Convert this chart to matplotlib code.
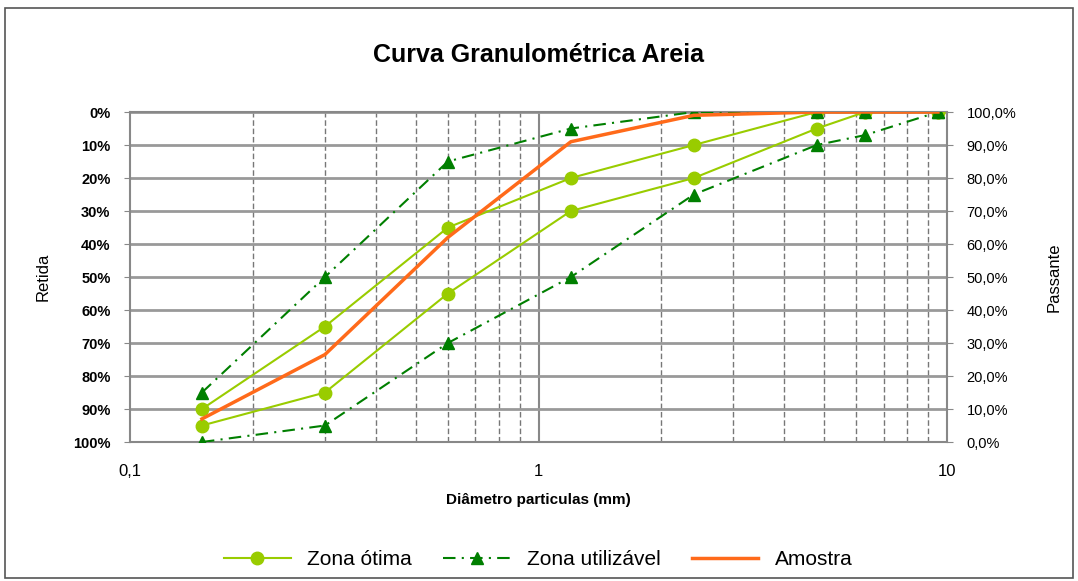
import numpy as np
import matplotlib.pyplot as plt
from matplotlib.patches import Rectangle

plt.rcParams['font.family'] = ['Liberation Sans', 'DejaVu Sans']

# sieve openings (mm)
peneiras = [0.15, 0.3, 0.6, 1.2, 2.4, 4.8, 6.3, 9.5]

# % retida acumulada
otima_inf = [90, 65, 35, 20, 10, 0, 0, 0]
otima_sup = [95, 85, 55, 30, 20, 5, 0, 0]
util_inf = [85, 50, 15, 5, 0, 0, 0, 0]
util_sup = [100, 95, 70, 50, 25, 10, 7, 0]
amostra = [93, 73.5, 38, 9, 1, 0, 0, 0]

verde_claro = "#99CC00"
verde_escuro = "#007F00"
laranja = "#FF6A1A"

fig = plt.figure(figsize=(10.78, 5.81), dpi=100)
fig.patches.append(Rectangle((0.005, 0.005), 0.99, 0.982, transform=fig.transFigure,
                             fill=False, edgecolor="#555555", linewidth=1.2))

ax = fig.add_axes([0.1206, 0.2392, 0.7579, 0.568])
ax.set_xscale("log")
ax.set_xlim(0.1, 10)
ax.set_ylim(100, 0)

# grid
for d in [0.2, 0.3, 0.4, 0.5, 0.6, 0.7, 0.8, 0.9, 2, 3, 4, 5, 6, 7, 8, 9]:
    ax.axvline(d, color="#777777", linestyle=(0, (4, 2)), linewidth=1.0, zorder=1)
ax.axvline(1, color="#888888", linewidth=1.5, zorder=1)
for h in range(0, 101, 10):
    ax.axhline(h, color="#999999", linewidth=2.0, zorder=1)

ax.plot(peneiras, otima_inf, color=verde_claro, marker="o", markersize=9, linewidth=1.5, zorder=3,
        label="Zona ótima")
ax.plot(peneiras, otima_sup, color=verde_claro, marker="o", markersize=9, linewidth=1.5, zorder=3)
ax.plot(peneiras, util_inf, color=verde_escuro, marker="^", markersize=9, linewidth=1.5,
        dashes=(6, 3, 1, 3), zorder=3, label="Zona utilizável")
ax.plot(peneiras, util_sup, color=verde_escuro, marker="^", markersize=9, linewidth=1.5,
        dashes=(6, 3, 1, 3), zorder=3)
ax.plot(peneiras, amostra, color=laranja, linewidth=2.5, zorder=4, label="Amostra")

ax.set_yticks(range(0, 101, 10))
ax.set_yticklabels([f"{v}%" for v in range(0, 101, 10)], fontsize=10.5, fontweight="bold")
ax.set_xticks([0.1, 1, 10])
ax.set_xticklabels(["0,1", "1", "10"], fontsize=12)
ax.xaxis.set_minor_locator(plt.NullLocator())
ax.tick_params(axis="x", length=0, pad=16)
ax.tick_params(axis="y", length=4, color="#888888", pad=10)
for s in ax.spines.values():
    s.set_color("#888888")
    s.set_linewidth(1.5)

ax2 = ax.twinx()
ax2.set_ylim(0, 100)
ax2.set_yticks(range(0, 101, 10))
ax2.set_yticklabels([f"{v},0%" for v in range(0, 101, 10)], fontsize=10.5)
ax2.tick_params(axis="y", length=4, color="#888888", pad=10)
for s in ax2.spines.values():
    s.set_visible(False)

ax.set_title("Curva Granulométrica Areia", fontsize=18, fontweight="bold", pad=36)
ax.set_xlabel("Diâmetro particulas (mm)", fontsize=11, fontweight="bold", labelpad=10)
ax.set_ylabel("Retida", fontsize=12, labelpad=16)
ax2.set_ylabel("Passante", fontsize=12, labelpad=22)

ax.legend(loc="upper center", bbox_to_anchor=(0.5, -0.27), ncol=3, frameon=False,
          fontsize=15, handlelength=3.2, columnspacing=1.5)

fig.savefig("out.png", dpi=100)
